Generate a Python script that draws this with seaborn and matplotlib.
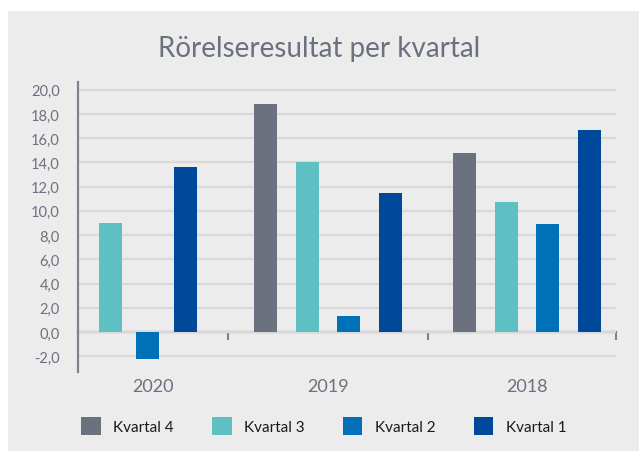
import numpy as np
import pandas as pd
import matplotlib
matplotlib.use('Agg')
import matplotlib.pyplot as plt
import seaborn as sns
from matplotlib.patches import Rectangle, Patch
from matplotlib.ticker import FuncFormatter

# data
years = ['2020', '2019', '2018']
quarters = ['Kvartal 4', 'Kvartal 3', 'Kvartal 2', 'Kvartal 1']
kvartal4 = [np.nan, 18.8, 14.8]
kvartal3 = [9.0, 14.0, 10.7]
kvartal2 = [-2.2, 1.3, 8.9]
kvartal1 = [13.6, 11.5, 16.7]
colors = ['#6b717e', '#5fc0c4', '#0070b8', '#00489a']

df = pd.DataFrame({'year': years * 4,
                   'quarter': np.repeat(quarters, 3),
                   'value': kvartal4 + kvartal3 + kvartal2 + kvartal1})

sns.set_theme(style='white')
plt.rcParams['font.family'] = ['Lato', 'DejaVu Sans']

bg = '#ececec'
axis_col = '#7f838f'
text_col = '#6b717e'

fig = plt.figure(figsize=(6.39, 4.52), dpi=100)
fig.patches.append(Rectangle((8 / 639, 0), 1, 1 - 12 / 452, transform=fig.transFigure,
                             facecolor=bg, edgecolor='none', zorder=-10))
ax = fig.add_axes([78 / 639, 79 / 452, 538 / 639, 290 / 452])
ax.set_facecolor(bg)

# 2020 group is drawn a little tighter in the original
bar_kw = dict(x='year', y='value', hue='quarter', order=years, hue_order=quarters,
              palette=colors, saturation=1, errorbar=None, legend=False, ax=ax,
              zorder=3, linewidth=0, edgecolor='none')
sns.barplot(data=df[df['year'] == '2020'], width=0.754, gap=0.387, **bar_kw)
sns.barplot(data=df[df['year'] != '2020'], width=0.834, gap=0.44, **bar_kw)

ymin, ymax = -3.3, 20.64
ax.set_ylim(ymin, ymax)
xl, xr = -0.256, 2.447
ax.set_xlim(xl, xr)

# grid
ax.set_yticks(np.arange(-2, 21, 2))
ax.yaxis.set_major_formatter(FuncFormatter(lambda v, p: f'{v:.1f}'.replace('.', ',')))
ax.yaxis.grid(True, color='#d9d9d9', linewidth=1.6, zorder=0)
ax.set_axisbelow(True)
ax.tick_params(axis='y', length=0, labelsize=10.5, labelcolor=text_col, pad=13)
ax.set_yticks([0], minor=True)
ax.tick_params(axis='y', which='minor', length=5, width=1.5, color=axis_col)

# year labels
ax.set_xticks([(xl + 0.5) / 2, 1, 2])
ax.set_xticklabels(years)
ax.tick_params(axis='x', length=0, labelsize=13, labelcolor=text_col, pad=4)
ax.set_xlabel('')
ax.set_ylabel('')

for s in ['top', 'right', 'bottom']:
    ax.spines[s].set_visible(False)
ax.spines['left'].set_color(axis_col)
ax.spines['left'].set_linewidth(1.6)

# zero axis with group separators
sec = ax.secondary_xaxis((0 - ymin) / (ymax - ymin))
sec.set_xticks([0.5, 1.5, xr])
sec.set_xticklabels([])
sec.tick_params(axis='x', length=6, width=1.5, color=axis_col, direction='out')
sec.spines['bottom'].set_color(axis_col)
sec.spines['bottom'].set_linewidth(1.6)

fig.text(0.5, 1 - 49 / 452, 'Rörelseresultat per kvartal', ha='center', va='center',
         fontsize=20, color=text_col)

handles = [Patch(facecolor=c, edgecolor='none') for c in colors]
fig.legend(handles, quarters, loc='center', bbox_to_anchor=(0.5 + 4 / 639, 1 - 427 / 452),
           ncol=4, frameon=False, fontsize=11, handlelength=1.3, handleheight=1.4,
           handletextpad=0.8, columnspacing=2.5, labelcolor='#1a1a1a')

fig.savefig('out.png', dpi=100, facecolor='white')
